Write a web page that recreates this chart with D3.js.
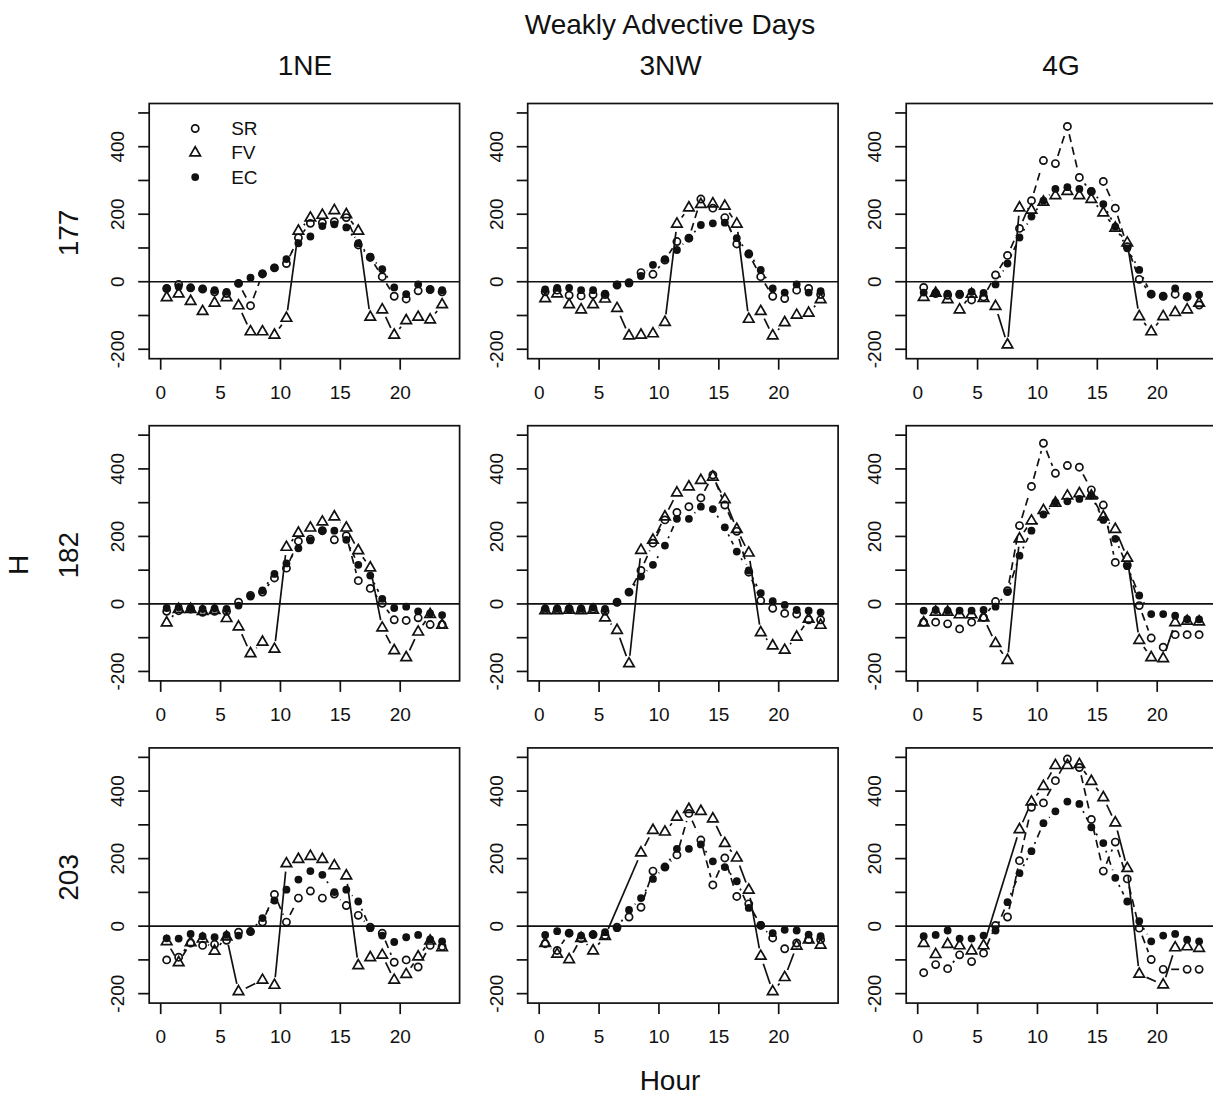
<!DOCTYPE html>
<html>
<head>
<meta charset="utf-8">
<script src="https://cdn.jsdelivr.net/npm/d3@7"></script>
<style>
  body { margin: 0; background: #fff; }
  text { font-family: "Liberation Sans", Arial, sans-serif; fill: #111; }
</style>
</head>
<body>
<div id="vis"></div>
<script>
const outerWidth = 1213;
const outerHeight = 1098;

// ---- Data (hourly means, hour = 0.5 ... 23.5) ----
const hours = [0.5, 1.5, 2.5, 3.5, 4.5, 5.5, 6.5, 7.5, 8.5, 9.5, 10.5, 11.5,
  12.5, 13.5, 14.5, 15.5, 16.5, 17.5, 18.5, 19.5, 20.5, 21.5, 22.5, 23.5];
const sites = ["1NE", "3NW", "4G"];
const days = ["177", "182", "203"];
const seriesNames = ["SR", "FV", "EC"];
const xTicks = [0, 5, 10, 15, 20];
const yTicks = [-200, -100, 0, 100, 200, 300, 400, 500];
const yTickLabels = [-200, 0, 200, 400];

// day 177
const SR_177_1NE = [-20, -8, -18, -22, -30, -35, -5, -71, 23, 41, 54, 130, 173, 175, 178, 190, 109, 72, 15, -43, -51, -27, -23, -30];
const FV_177_1NE = [-47, -36, -58, -88, -63, -47, -71, -148, -148, -158, -108, 150, 189, 197, 211, 199, 150, -105, -83, -158, -115, -105, -113, -68];
const EC_177_1NE = [-20, -15, -18, -20, -25, -30, -5, 12, 25, 42, 67, 114, 134, 165, 170, 161, 114, 74, 37, -17, -37, -8, -23, -25];

const SR_177_3NW = [-30, -25, -40, -42, -38, -38, -10, -3, 27, 22, 64, 119, 129, 245, 218, 190, 112, 82, 15, -43, -50, -25, -20, -38];
const FV_177_3NW = [-50, -36, -68, -83, -68, -51, -79, -160, -158, -154, -120, 171, 219, 229, 231, 224, 171, -111, -88, -160, -121, -99, -93, -53];
const EC_177_3NW = [-23, -18, -18, -25, -25, -35, -8, -5, 17, 50, 67, 94, 129, 168, 173, 175, 129, 84, 35, -20, -32, -8, -32, -28];

const SR_177_4G = [-17, -35, -40, -38, -54, -45, 20, 78, 158, 240, 359, 350, 460, 309, 267, 297, 218, 104, 7, -37, -43, -37, -45, -69];
const FV_177_4G = [-46, -34, -53, -83, -37, -49, -73, -187, 219, 212, 236, 255, 268, 255, 244, 204, 159, 115, -103, -148, -103, -91, -83, -63];
const EC_177_4G = [-32, -32, -35, -35, -30, -33, -8, 54, 131, 193, 240, 275, 280, 275, 269, 230, 163, 99, 35, -37, -43, -20, -43, -38];

// day 182
const SR_182_1NE = [-22, -20, -15, -25, -22, -22, 5, 25, 35, 77, 106, 186, 192, 217, 190, 202, 69, 46, 2, -47, -49, -41, -61, -61];
const FV_182_1NE = [-56, -16, -16, -22, -19, -43, -68, -147, -113, -134, 168, 210, 225, 243, 258, 225, 158, 107, -71, -138, -159, -83, -31, -63];
const EC_182_1NE = [-12, -10, -12, -15, -13, -15, -5, 22, 40, 89, 120, 165, 188, 217, 217, 190, 116, 84, 15, -12, -8, -22, -28, -33];

const SR_182_3NW = [-17, -17, -15, -17, -15, -22, 5, 35, 99, 180, 249, 271, 288, 314, 382, 293, 215, 94, 10, -13, -28, -30, -47, -47];
const FV_182_3NW = [-20, -20, -18, -20, -18, -41, -78, -177, 159, 189, 258, 329, 347, 366, 376, 309, 221, 151, -85, -124, -137, -98, -45, -63];
const EC_182_3NW = [-13, -13, -13, -13, -10, -15, 5, 35, 81, 116, 173, 252, 252, 288, 281, 227, 155, 99, 32, 8, -3, -18, -20, -25];

const SR_182_4G = [-54, -54, -59, -74, -54, -40, 7, 39, 232, 348, 476, 387, 410, 405, 338, 293, 123, 115, -5, -101, -128, -91, -91, -91];
const FV_182_4G = [-56, -24, -24, -32, -32, -41, -117, -167, 193, 246, 277, 299, 320, 327, 320, 258, 221, 136, -108, -159, -162, -55, -51, -53];
const EC_182_4G = [-20, -18, -20, -20, -20, -18, -8, 35, 143, 217, 265, 301, 304, 311, 321, 249, 193, 112, 25, -30, -30, -35, -45, -46];

// day 203 (null = no value that hour)
const SR_203_1NE = [-100, -92, -50, -57, -54, -42, -18, -16, 12, 94, 12, 83, 104, 83, 95, 61, 32, -3, -21, -107, -100, -121, -57, -60];
const FV_203_1NE = [-46, -108, -49, -38, -74, -32, -194, null, -160, -175, 185, 198, 207, 198, 179, 149, -117, -93, -86, -160, -143, -91, -44, -64];
const EC_203_1NE = [-36, -37, -23, -30, -33, -26, -28, -16, 24, 76, 108, 138, 163, 152, 101, 108, 73, -6, -28, -47, -33, -26, -39, -45];

const SR_203_3NW = [-52, -72, -21, -37, -25, -28, -3, 27, 56, 163, 175, 211, 334, 255, 122, 202, 88, 66, 2, -35, -67, -50, -40, -40];
const FV_203_3NW = [-51, -83, -99, -36, -73, -30, null, null, 217, 284, 279, 323, 346, 340, 318, 245, 202, 107, -89, -194, -152, -59, -41, -56];
const EC_203_3NW = [-26, -15, -21, -28, -25, -18, -6, 48, 83, 140, 175, 229, 229, 242, 192, 175, 133, 54, 4, -21, -11, -13, -25, -30];

const SR_203_4G = [-138, -114, -126, -85, -105, -80, 2, 27, 194, 352, 365, 431, 495, 470, 316, 163, 249, 140, -6, -99, -128, null, -128, -128];
const FV_203_4G = [-51, -84, -54, -58, -73, -58, null, null, 286, 368, 414, 476, 476, 479, 429, 381, 306, 171, -142, null, -174, -64, -61, -66];
const EC_203_4G = [-30, -26, -13, -37, -37, -28, -13, 71, 157, 222, 305, 340, 369, 362, 293, 246, 143, 73, 15, -45, -28, -23, -40, -45];

// panel table: rows = days, cols = sites
const panels = [
  [[SR_177_1NE, FV_177_1NE, EC_177_1NE], [SR_177_3NW, FV_177_3NW, EC_177_3NW], [SR_177_4G, FV_177_4G, EC_177_4G]],
  [[SR_182_1NE, FV_182_1NE, EC_182_1NE], [SR_182_3NW, FV_182_3NW, EC_182_3NW], [SR_182_4G, FV_182_4G, EC_182_4G]],
  [[SR_203_1NE, FV_203_1NE, EC_203_1NE], [SR_203_3NW, FV_203_3NW, EC_203_3NW], [SR_203_4G, FV_203_4G, EC_203_4G]]
];

// ---- Layout ----
const box = { left0: 149.2, top0: 103.5, colStep: 378.5, rowStep: 322.2, w: 310.4, h: 255.2 };
const xDomain = [-0.96, 24.96];
const yDomain = [-228, 528];
const R = 3.9;      // symbol radius
const GAP = 8;      // type="b" gap around points
const lineW = 1.7;
const tickLen = 11;
const dashes = { SR: "8,5", FV: null, EC: "2,5,8,5" };
const colTitleX = [305, 670.5, 1061];

const svg = d3.select("#vis").append("svg")
  .attr("width", outerWidth)
  .attr("height", outerHeight)
  .style("display", "block");

function symbol(g, name, x, y) {
  if (name === "SR") {
    g.append("circle").attr("cx", x).attr("cy", y).attr("r", R - 0.3)
      .attr("fill", "none").attr("stroke", "#111").attr("stroke-width", lineW);
  } else if (name === "FV") {
    const r = 1.555 * R, xc = 1.347 * R, yc = 0.778 * R;
    g.append("path")
      .attr("d", `M${x},${y - r}L${x + xc},${y + yc}L${x - xc},${y + yc}Z`)
      .attr("fill", "none").attr("stroke", "#111").attr("stroke-width", lineW)
      .attr("stroke-linejoin", "miter");
  } else {
    g.append("circle").attr("cx", x).attr("cy", y).attr("r", R)
      .attr("fill", "#111");
  }
}

days.forEach((day, r) => {
  sites.forEach((site, c) => {
    const left = box.left0 + c * box.colStep;
    const top = box.top0 + r * box.rowStep;
    const x = d3.scaleLinear().domain(xDomain).range([left, left + box.w]);
    const y = d3.scaleLinear().domain(yDomain).range([top + box.h, top]);
    const g = svg.append("g");

    // zero line
    g.append("line")
      .attr("x1", left).attr("x2", left + box.w)
      .attr("y1", y(0)).attr("y2", y(0))
      .attr("stroke", "#111").attr("stroke-width", lineW);

    // series: lines with gaps (type = "b"), then symbols
    seriesNames.forEach((name, si) => {
      const vals = panels[r][c][si];
      const pts = hours
        .map((h, i) => ({ h, v: vals[i] }))
        .filter(d => d.v !== null)
        .map(d => [x(d.h), y(d.v)]);

      const lg = g.append("g");
      for (let i = 1; i < pts.length; i++) {
        const [x0, y0] = pts[i - 1], [x1, y1] = pts[i];
        const len = Math.hypot(x1 - x0, y1 - y0);
        if (len <= 2 * GAP) continue;
        const f = GAP / len;
        lg.append("line")
          .attr("x1", x0 + f * (x1 - x0)).attr("y1", y0 + f * (y1 - y0))
          .attr("x2", x1 - f * (x1 - x0)).attr("y2", y1 - f * (y1 - y0))
          .attr("stroke", "#111").attr("stroke-width", lineW)
          .attr("stroke-dasharray", dashes[name]);
      }
      const sg = g.append("g");
      pts.forEach(p => symbol(sg, name, p[0], p[1]));
    });

    // box
    g.append("rect")
      .attr("x", left).attr("y", top)
      .attr("width", box.w).attr("height", box.h)
      .attr("fill", "none").attr("stroke", "#111").attr("stroke-width", lineW);

    // x axis
    const bottom = top + box.h;
    xTicks.forEach(t => {
      g.append("line")
        .attr("x1", x(t)).attr("x2", x(t))
        .attr("y1", bottom).attr("y2", bottom + tickLen)
        .attr("stroke", "#111").attr("stroke-width", lineW);
      g.append("text")
        .attr("x", x(t)).attr("y", bottom + 40)
        .attr("text-anchor", "middle")
        .style("font-size", "19px")
        .text(t);
    });

    // y axis
    yTicks.forEach(t => {
      g.append("line")
        .attr("x1", left - tickLen).attr("x2", left)
        .attr("y1", y(t)).attr("y2", y(t))
        .attr("stroke", "#111").attr("stroke-width", lineW);
    });
    yTickLabels.forEach(t => {
      g.append("text")
        .attr("transform", `translate(${left - 25},${y(t)}) rotate(-90)`)
        .attr("text-anchor", "middle")
        .style("font-size", "19px")
        .text(t);
    });

    // legend in first panel
    if (r === 0 && c === 0) {
      seriesNames.forEach((name, i) => {
        const ly = top + 25 + i * 24.3;
        symbol(g, name, left + 46, ly);
        g.append("text")
          .attr("x", left + 82).attr("y", ly).attr("dy", "0.35em")
          .style("font-size", "19px")
          .text(name);
      });
    }
  });
});

// ---- Outer labels ----
svg.append("text")
  .attr("x", 670).attr("y", 34)
  .attr("text-anchor", "middle")
  .style("font-size", "28px")
  .text("Weakly Advective Days");

sites.forEach((s, c) => {
  svg.append("text")
    .attr("x", colTitleX[c]).attr("y", 75)
    .attr("text-anchor", "middle")
    .style("font-size", "28px")
    .text(s);
});

days.forEach((d, r) => {
  svg.append("text")
    .attr("transform", `translate(78,${233 + r * box.rowStep}) rotate(-90)`)
    .attr("text-anchor", "middle")
    .style("font-size", "28px")
    .text(d);
});

svg.append("text")
  .attr("transform", "translate(28,565) rotate(-90)")
  .attr("text-anchor", "middle")
  .style("font-size", "28px")
  .text("H");

svg.append("text")
  .attr("x", 670).attr("y", 1090)
  .attr("text-anchor", "middle")
  .style("font-size", "28px")
  .text("Hour");
</script>
</body>
</html>
